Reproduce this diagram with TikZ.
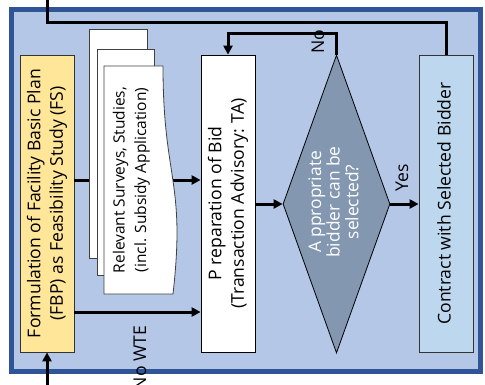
\documentclass[tikz,border=0pt]{standalone}
\usepackage{fontspec}
\setmainfont{Open Sans}
\usetikzlibrary{arrows.meta,shapes.geometric}
\definecolor{framec}{HTML}{2F5597}
\definecolor{framefill}{HTML}{B4C7E7}
\definecolor{fbpfill}{HTML}{FFE699}
\definecolor{diafill}{HTML}{8497B0}
\definecolor{contfill}{HTML}{BDD7EE}
\newcommand{\vtxt}[1]{\rotatebox{90}{\begin{tabular}{@{}c@{}}#1\end{tabular}}}
\begin{document}
\begin{tikzpicture}[x=1pt,y=-1pt,
  box/.style={draw=black!80, line width=0.8pt, inner sep=0pt, minimum width=54pt, minimum height=297pt},
  page/.style={draw=black!75, line width=0.8pt, fill=white, inner sep=0pt},
  big/.style={font=\fontsize{17.6}{22.5}\selectfont},
  conn/.style={line width=3pt},
  arr/.style={conn, -{Triangle[length=9pt,width=9pt]}},
  lbl/.style={rotate=90, inner sep=0pt, font=\fontsize{17.6}{20}\selectfont},
]
\useasboundingbox (0,0) rectangle (485,384);
\clip (0,0) rectangle (485,384);
% frame
\node[draw=framec, fill=framefill, line width=5pt, minimum width=469pt, minimum height=362pt, inner sep=0pt] (frame) at (246,190.5) {};
% main boxes
\node[box, big, fill=fbpfill] (fbp) at (47,203.5) {\vtxt{Formulation of Facility Basic Plan\\(FBP) as Feasibility Study (FS)}};
\node[box, big, fill=white, draw=black] (prep) at (228,203.5) {\vtxt{P reparation of Bid\\(Transaction Advisory: TA)}};
\node[box, big, fill=contfill] (cont) at (446,203.5) {\vtxt{Contract with Selected Bidder}};
\node[diamond, draw=black, line width=0.8pt, fill=diafill, inner sep=0pt, minimum width=107pt, minimum height=298pt] (dia) at (336.5,204) {};
\node[text=white, font=\fontsize{17.4}{17.8}\selectfont, inner sep=0pt] (diatext) at (336,202) {\vtxt{A ppropriate\\bidder can be\\selected?}};
% helper coordinates
\coordinate (ya) at (0,180);
\coordinate (yb) at (0,312);
\coordinate (noc) at (0,33);
\coordinate (topc) at (0,22);
\coordinate (exitc) at (0,-5);
\coordinate (entc) at (0,392);
% arrow behind documents
\draw[arr] (fbp.east |- ya) -- (prep.west |- ya);
% documents
\node[page, minimum width=58pt, minimum height=229pt] (page3) at (118,143.5) {};
\node[page, minimum width=57pt, minimum height=226pt] (page2) at (125.5,162) {};
\path[page] (104,66) -- (163,66) .. controls (163,180) and (186,180) .. (173,294) -- (104,294) -- cycle;
\node[font=\fontsize{15.5}{21.5}\selectfont, inner sep=0pt] (docs) at (131,180) {\vtxt{Relevant Surveys, Studies,\\(incl. Subsidy Application)}};
% connectors
\draw[arr] (fbp.east |- yb) -- (prep.west |- yb);
\draw[arr] (prep.east |- dia.west) -- (dia.west);
\draw[arr] (dia.east) -- (cont.west |- dia.east);
\draw[arr] (dia.north) -- (dia.north |- noc) -| (prep.north);
\draw[conn] (cont.north) -- (cont.north |- topc) -| (fbp.north |- exitc);
\draw[arr] (fbp.south |- entc) -- (fbp.south);
% labels
\node[lbl] (nolbl) at (318,42) {No};
\node[lbl] (yeslbl) at (402,178) {Yes};
\node[lbl] (nowte) at (140,358) {No WTE};
\end{tikzpicture}
\end{document}
